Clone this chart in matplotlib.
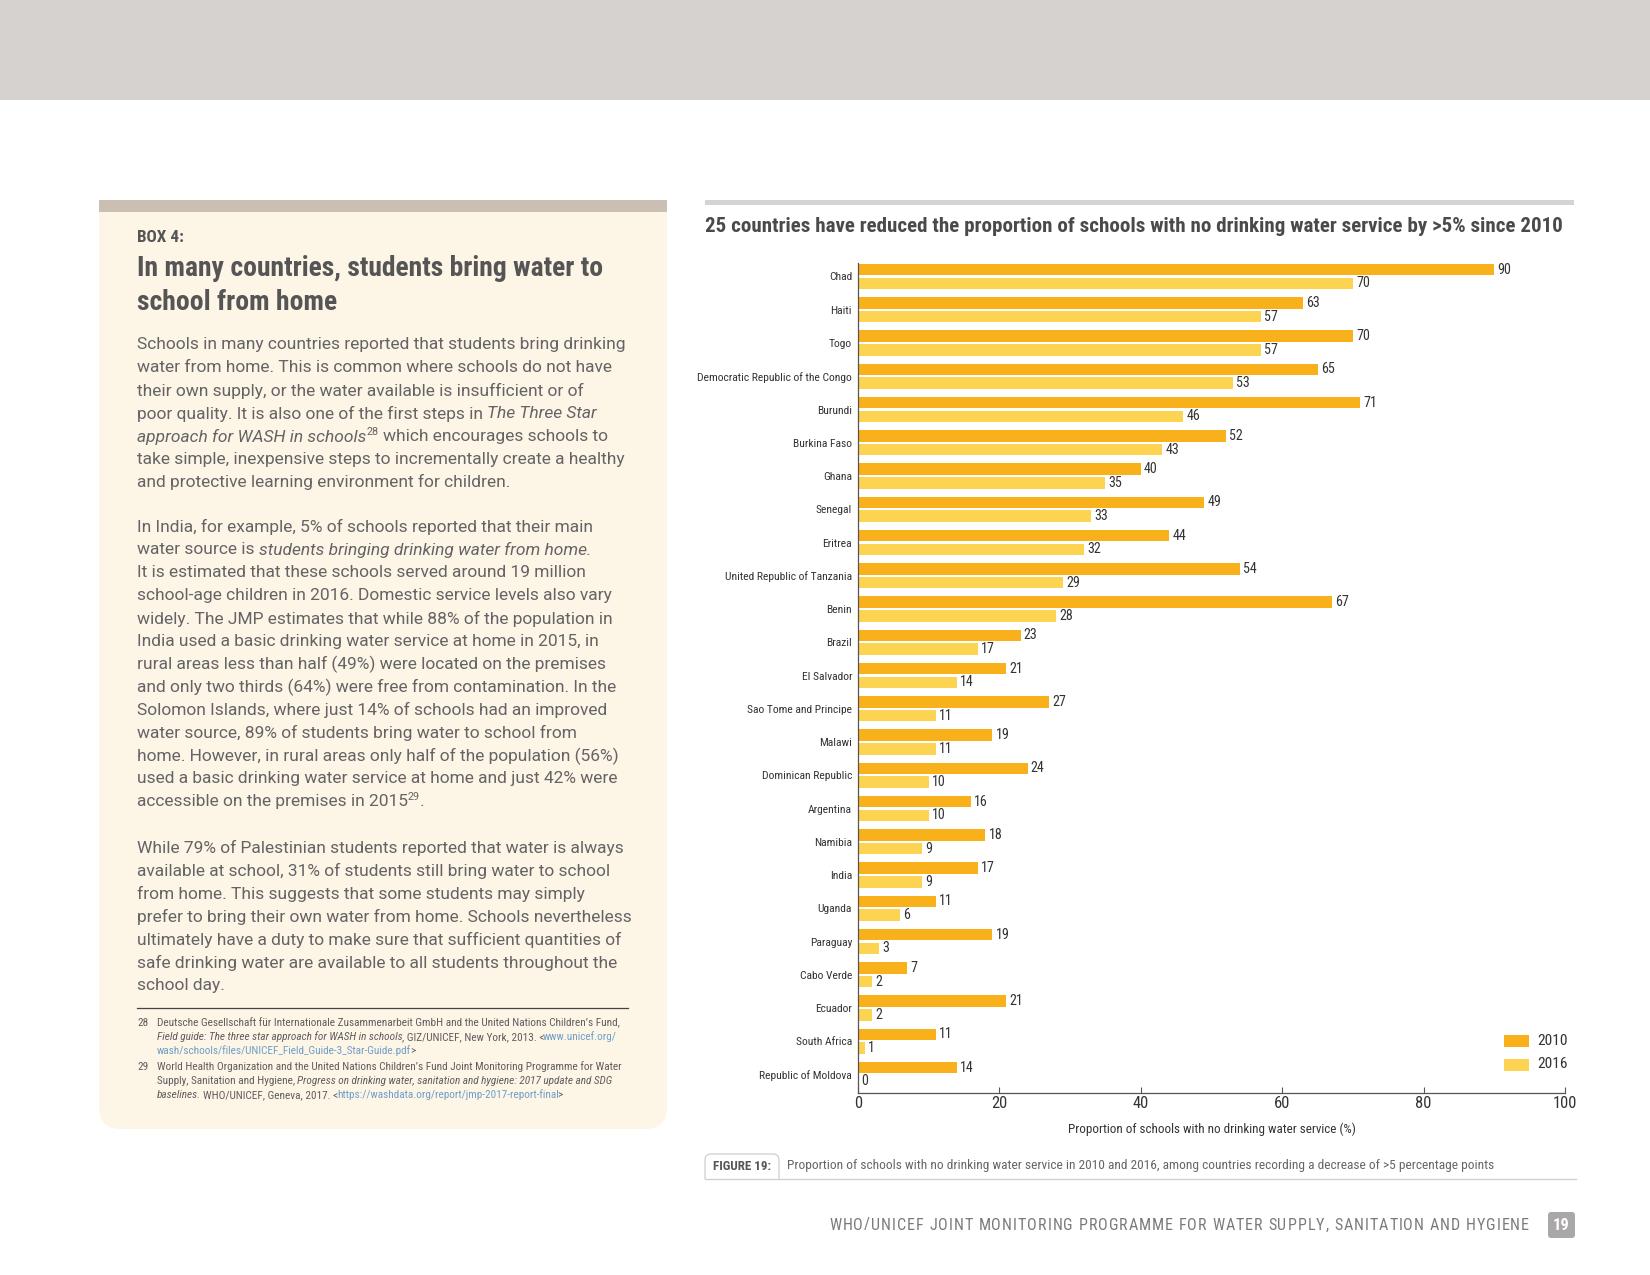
import matplotlib
matplotlib.use("Agg")
import matplotlib.pyplot as plt
from matplotlib import font_manager as fm
from matplotlib.patches import Rectangle, FancyBboxPatch
import numpy as np

# ---------------- data ----------------
countries = ["Chad", "Haiti", "Togo", "Democratic Republic of the Congo", "Burundi",
             "Burkina Faso", "Ghana", "Senegal", "Eritrea", "United Republic of Tanzania",
             "Benin", "Brazil", "El Salvador", "Sao Tome and Principe", "Malawi",
             "Dominican Republic", "Argentina", "Namibia", "India", "Uganda",
             "Paraguay", "Cabo Verde", "Ecuador", "South Africa", "Republic of Moldova"]
v2010 = [90, 63, 70, 65, 71, 52, 40, 49, 44, 54, 67, 23, 21, 27, 19, 24, 16, 18, 17, 11, 19, 7, 21, 11, 14]
v2016 = [70, 57, 57, 53, 46, 43, 35, 33, 32, 29, 28, 17, 14, 11, 11, 10, 10, 9, 9, 6, 3, 2, 2, 1, 0]
series_labels = ["2010", "2016"]
xtick_values = [0, 20, 40, 60, 80, 100]

chart_title = "25 countries have reduced the proportion of schools with no drinking water service by >5% since 2010"
x_label = "Proportion of schools with no drinking water service (%)"
caption_tag = "FIGURE 19:"
caption = "Proportion of schools with no drinking water service in 2010 and 2016, among countries recording a decrease of >5 percentage points"
footer = "WHO/UNICEF JOINT MONITORING PROGRAMME FOR WATER SUPPLY, SANITATION AND HYGIENE"
page_no = "19"

# ---------------- fonts ----------------
def available(name):
    try:
        fm.findfont(fm.FontProperties(family=name), fallback_to_default=False)
        return True
    except Exception:
        return False

COND = next((f for f in ["Liberation Sans Narrow", "DejaVu Sans Condensed", "Roboto Condensed"] if available(f)), "DejaVu Sans")
BODY = next((f for f in ["Roboto", "Lato", "Liberation Sans"] if available(f)), "DejaVu Sans")

C2010 = "#F9B11B"
C2016 = "#FDD451"
DARK = "#333333"

W, H = 1650, 1275
fig = plt.figure(figsize=(W / 100, H / 100), dpi=100)
bg = fig.add_axes([0, 0, 1, 1])
bg.set_xlim(0, W)
bg.set_ylim(H, 0)
bg.axis("off")
renderer = fig.canvas.get_renderer()


def text_width(s, **kw):
    t = bg.text(0, 0, s, **kw)
    w = t.get_window_extent(renderer).width
    t.remove()
    return w


def fit_size(s, width, **kw):
    return 10.0 * width / text_width(s, fontsize=10, **kw)


def draw_runs(x, y, parts, size, color, family, trim=0.0):
    """parts: list of (text, style dict)"""
    for txt, st in parts:
        fs = size * (0.62 if st.get("sup") else 1.0)
        kw = dict(fontsize=fs, family=family, fontstyle=st.get("style", "normal"),
                  fontweight=st.get("weight", "normal"))
        sp_w = text_width("a a", **kw) - text_width("aa", **kw)
        lead = len(txt) - len(txt.lstrip(" "))
        trail = len(txt) - len(txt.rstrip(" "))
        core = txt.strip(" ")
        x += lead * sp_w
        if core:
            yy = y - (size * 0.4 if st.get("sup") else 0)
            t = bg.text(x, yy, core, va="center", ha="left", color=st.get("color", color), **kw)
            x += t.get_window_extent(renderer).width - trim
        x += trail * sp_w
    return x

# ---------------- page decoration ----------------
bg.add_patch(Rectangle((0, 0), W, 100, color="#D6D2D0", lw=0))

# left box
bg.add_patch(FancyBboxPatch((99, 212), 568, 917, boxstyle="round,pad=0,rounding_size=22",
                            fc="#FDF5E6", ec="none"))
bg.add_patch(Rectangle((99, 212), 568, 500, fc="#FDF5E6", ec="none"))
bg.add_patch(Rectangle((99, 200), 568, 12, fc="#CBBFB3", ec="none"))

bg.text(137, 238, "BOX 4:", family=COND, fontweight="bold", fontsize=fit_size("BOX 4:", 47, family=COND, fontweight="bold"),
        color="#555555", va="center", ha="left")
t_size = fit_size("In many countries, students bring water to", 466, family=COND, fontweight="bold")
bg.text(137, 268, "In many countries, students bring water to", family=COND, fontweight="bold", fontsize=t_size,
        color="#555555", va="center", ha="left")
bg.text(137, 302, "school from home", family=COND, fontweight="bold", fontsize=t_size,
        color="#555555", va="center", ha="left")

N = {}
I = {"style": "italic"}
S = {"sup": True}
para1 = [
    [("Schools in many countries reported that students bring drinking", N)],
    [("water from home. This is common where schools do not have", N)],
    [("their own supply, or the water available is insufficient or of", N)],
    [("poor quality. It is also one of the first steps in ", N), ("The Three Star", I)],
    [("approach for WASH in schools", I), ("28", S), (" which encourages schools to", N)],
    [("take simple, inexpensive steps to incrementally create a healthy", N)],
    [("and protective learning environment for children.", N)],
]
para2 = [
    [("In India, for example, 5% of schools reported that their main", N)],
    [("water source is ", N), ("students bringing drinking water from home.", I)],
    [("It is estimated that these schools served around 19 million", N)],
    [("school-age children in 2016. Domestic service levels also vary", N)],
    [("widely. The JMP estimates that while 88% of the population in", N)],
    [("India used a basic drinking water service at home in 2015, in", N)],
    [("rural areas less than half (49%) were located on the premises", N)],
    [("and only two thirds (64%) were free from contamination. In the", N)],
    [("Solomon Islands, where just 14% of schools had an improved", N)],
    [("water source, 89% of students bring water to school from", N)],
    [("home. However, in rural areas only half of the population (56%)", N)],
    [("used a basic drinking water service at home and just 42% were", N)],
    [("accessible on the premises in 2015", N), ("29", S), (".", N)],
]
para3 = [
    [("While 79% of Palestinian students reported that water is always", N)],
    [("available at school, 31% of students still bring water to school", N)],
    [("from home. This suggests that some students may simply", N)],
    [("prefer to bring their own water from home. Schools nevertheless", N)],
    [("ultimately have a duty to make sure that sufficient quantities of", N)],
    [("safe drinking water are available to all students throughout the", N)],
    [("school day.", N)],
]
b_size = fit_size("Schools in many countries reported that students bring drinking", 490, family=BODY)
LS = 22.9
for start, para in [(345, para1), (527, para2), (848, para3)]:
    for k, line in enumerate(para):
        draw_runs(137, start + k * LS, line, b_size, "#646466", BODY)

bg.plot([137, 628], [1008, 1008], color="#444444", lw=0.9)
BL = {"color": "#6F9FC8"}
BI = {"style": "italic"}
f_size = fit_size("Deutsche Gesellschaft für Internationale Zusammenarbeit GmbH and the United Nations Children’s Fund,", 459, family=COND)
fn28 = [
    [("Deutsche Gesellschaft für Internationale Zusammenarbeit GmbH and the United Nations Children’s Fund,", N)],
    [("Field guide: The three star approach for WASH in schools", BI), (", GIZ/UNICEF, New York, 2013. <", N), ("www.unicef.org/", BL)],
    [("wash/schools/files/UNICEF_Field_Guide-3_Star-Guide.pdf", BL), (">", N)],
]
fn29 = [
    [("World Health Organization and the United Nations Children’s Fund Joint Monitoring Programme for Water", N)],
    [("Supply, Sanitation and Hygiene, ", N), ("Progress on drinking water, sanitation and hygiene: 2017 update and SDG", BI)],
    [("baselines.", BI), (" WHO/UNICEF, Geneva, 2017. <", N), ("https://washdata.org/report/jmp-2017-report-final", BL), (">", N)],
]
for num, start, fn in [("28", 1023, fn28), ("29", 1067, fn29)]:
    bg.text(137, start, num, family=COND, fontsize=f_size, color="#5E5E60", va="center", ha="left")
    for k, line in enumerate(fn):
        draw_runs(157, start + k * 14, line, f_size, "#5E5E60", COND, trim=1.0)

# ---------------- chart header ----------------
bg.add_patch(Rectangle((705, 200), 869, 5, fc="#D4D4D4", ec="none"))
bg.text(705, 227, chart_title, family=COND, fontweight="bold",
        fontsize=fit_size(chart_title, 860, family=COND, fontweight="bold"),
        color="#4A4A4A", va="center", ha="left")

# ---------------- chart ----------------
L, R, T, B = 858, 1565, 263, 1093
ax = fig.add_axes([L / W, 1 - B / H, (R - L) / W, (B - T) / H])
ax.patch.set_alpha(0)
idx = np.arange(len(countries))
off, bh = 0.205, 0.345
ax.barh(idx - off, v2010, height=bh, color=C2010, lw=0)
ax.barh(idx + off, v2016, height=bh, color=C2016, lw=0)
ax.set_xlim(0, 100)
ax.set_ylim(len(countries) - 1 + 0.556, -0.406)

base = fit_size("Democratic Republic of the Congo", 148, family=COND)
lab_size = base * 1.04
num_size = base * 1.27
for i in idx:
    ax.text(v2010[i] + 0.45, i - off, str(v2010[i]), va="center", ha="left",
            family=COND, fontsize=num_size, color=DARK)
    ax.text(v2016[i] + 0.45, i + off, str(v2016[i]), va="center", ha="left",
            family=COND, fontsize=num_size, color=DARK)

ax.set_yticks(idx)
ax.set_yticklabels(countries, family=COND, fontsize=lab_size, color=DARK)
ax.tick_params(axis="y", length=0, pad=4.3)
ax.set_xticks(xtick_values)
ax.set_xticklabels([str(v) for v in xtick_values], family=COND, fontsize=base * 1.5, color=DARK)
ax.tick_params(axis="x", direction="in", length=4, width=0.8, color="#555555", pad=2.5)
for s in ["top", "right"]:
    ax.spines[s].set_visible(False)
for s in ["left", "bottom"]:
    ax.spines[s].set_color("#555555")
    ax.spines[s].set_linewidth(0.9)
ax.set_xlabel(x_label, family=COND, fontsize=fit_size(x_label, 286, family=COND), color=DARK)
ax.xaxis.set_label_coords(0.5, -(1129 - B) / (B - T))
ax.xaxis.label.set_va("center")

# legend
for k, (lab, col) in enumerate(zip(series_labels, [C2010, C2016])):
    y0 = 1035 + k * 23.5
    bg.add_patch(Rectangle((1504, y0), 25, 12, fc=col, ec="none"))
    bg.text(1537, y0 + 6, lab, family=COND, fontsize=base * 1.4, color=DARK, va="center", ha="left")

# ---------------- caption ----------------
bg.add_patch(FancyBboxPatch((705, 1154), 74, 36, boxstyle="round,pad=0,rounding_size=6",
                            fc="white", ec="#CFCFCF", lw=0.9))
bg.add_patch(Rectangle((700, 1179), 90, 20, fc="white", ec="none"))
bg.plot([705, 1576], [1178.5, 1178.5], color="#CFCFCF", lw=0.9)
bg.text(742, 1166, caption_tag, family=COND, fontweight="bold",
        fontsize=fit_size(caption_tag, 58, family=COND, fontweight="bold"),
        color="#555555", va="center", ha="center")
bg.text(787, 1165, caption, family=COND, fontsize=fit_size(caption, 701, family=COND),
        color="#666666", va="center", ha="left")

# ---------------- footer ----------------
ft_size = 11.5
ft_kw = dict(family=COND, fontsize=ft_size)
widths = []
for ch in footer:
    widths.append(text_width("a" + ch + "a", **ft_kw) - text_width("aa", **ft_kw))
track = (700 - sum(widths)) / (len(footer) - 1)
x = 829
for ch, w in zip(footer, widths):
    if ch != " ":
        bg.text(x, 1225, ch, color="#7A7A7A", va="center", ha="left", **ft_kw)
    x += w + track
bg.add_patch(FancyBboxPatch((1548, 1212), 27, 26, boxstyle="round,pad=0,rounding_size=3",
                            fc="#A9A7A7", ec="none"))
bg.text(1561.5, 1225, page_no, family=COND, fontweight="bold", fontsize=12, color="white",
        va="center", ha="center")

fig.savefig("out.png", dpi=100)
